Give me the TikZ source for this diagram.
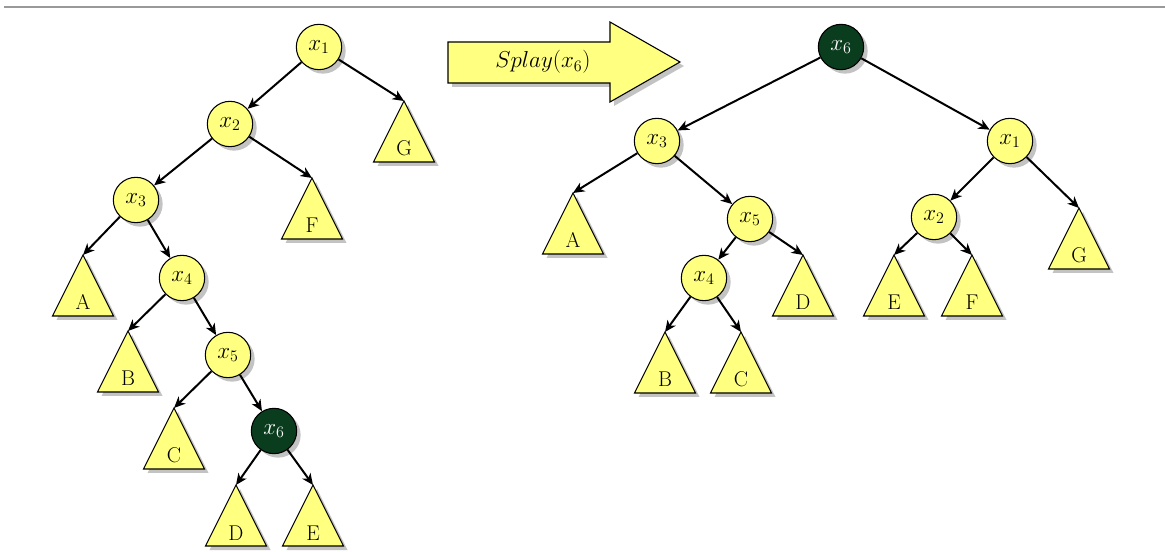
\documentclass[tikz,border=0pt]{standalone}
\usepackage{fontspec}
\usetikzlibrary{arrows.meta,shadows}
\definecolor{yel}{RGB}{255,255,128}
\definecolor{dkg}{RGB}{10,60,30}
\definecolor{shd}{RGB}{195,195,195}
\definecolor{topline}{RGB}{153,153,153}
\tikzset{
  myshadow/.style={drop shadow={shadow xshift=3pt, shadow yshift=-3pt, fill=shd, opacity=1}},
  vtx/.style={circle, draw=black, line width=0.8pt, fill=yel, minimum size=34pt, inner sep=0pt, font=\fontsize{17.28}{20}\selectfont, myshadow},
  dvtx/.style={vtx, fill=dkg, text=white},
  tri/.style={draw=black, line width=0.8pt, fill=yel, line join=miter, myshadow},
  trilabel/.style={anchor=base, inner sep=0pt, font=\fontsize{16}{19}\selectfont},
  edge/.style={line width=1.5pt, -{Stealth[length=8.5pt,width=7.5pt,inset=2.5pt]}},
}
\newcommand\mytri[4]{%
  \coordinate (#1) at (#2,#3);
  \path[tri] (#2,#3) -- ++(30.5,61) -- ++(-61,0) -- cycle;
  \node[trilabel] (#1t) at (#2,#3+55) {#4};
}
\begin{document}
\begin{tikzpicture}[x=0.75pt,y=-0.75pt]
\useasboundingbox (0,0) rectangle (1165,552);
\draw[line width=1.5pt, topline] (4,7) -- (1165,7);

% ---------- left tree ----------
\node[vtx]  (lx1) at (319,47)  {$x_1$};
\node[vtx]  (lx2) at (230,124) {$x_2$};
\node[vtx]  (lx3) at (136,200) {$x_3$};
\node[vtx]  (lx4) at (182,278) {$x_4$};
\node[vtx]  (lx5) at (228,355) {$x_5$};
\node[dvtx] (lx6) at (274,431) {$x_6$};
\mytri{lG}{404}{101}{G}
\mytri{lF}{312}{178}{F}
\mytri{lA}{83}{255}{A}
\mytri{lB}{128}{331}{B}
\mytri{lC}{174}{408}{C}
\mytri{lD}{236}{485}{D}
\mytri{lE}{313}{485}{E}
\draw[edge] (lx1) -- (lx2);
\draw[edge] (lx1) -- (lG);
\draw[edge] (lx2) -- (lx3);
\draw[edge] (lx2) -- (lF);
\draw[edge] (lx3) -- (lA);
\draw[edge] (lx3) -- (lx4);
\draw[edge] (lx4) -- (lB);
\draw[edge] (lx4) -- (lx5);
\draw[edge] (lx5) -- (lC);
\draw[edge] (lx5) -- (lx6);
\draw[edge] (lx6) -- (lD);
\draw[edge] (lx6) -- (lE);

% ---------- splay arrow ----------
\path[fill=yel, draw=black, line width=0.8pt, myshadow]
  (448,42) -- (610,42) -- (610,22) -- (680,62) -- (610,102) -- (610,83) -- (448,83) -- cycle;
\node[font=\fontsize{17.28}{20}\selectfont] (splay) at (543,62) {$Splay(x_6)$};

% ---------- right tree ----------
\node[dvtx] (rx6) at (841,47)  {$x_6$};
\node[vtx]  (rx3) at (657,141) {$x_3$};
\node[vtx]  (rx1) at (1010,141) {$x_1$};
\node[vtx]  (rx5) at (750,219) {$x_5$};
\node[vtx]  (rx2) at (934,217) {$x_2$};
\node[vtx]  (rx4) at (704,278) {$x_4$};
\mytri{rA}{573}{193}{A}
\mytri{rD}{803}{255}{D}
\mytri{rE}{894}{255}{E}
\mytri{rF}{972}{255}{F}
\mytri{rG}{1079}{208}{G}
\mytri{rB}{665}{332}{B}
\mytri{rC}{741}{332}{C}
\draw[edge] (rx6) -- (rx3);
\draw[edge] (rx6) -- (rx1);
\draw[edge] (rx3) -- (rA);
\draw[edge] (rx3) -- (rx5);
\draw[edge] (rx5) -- (rx4);
\draw[edge] (rx5) -- (rD);
\draw[edge] (rx4) -- (rB);
\draw[edge] (rx4) -- (rC);
\draw[edge] (rx1) -- (rx2);
\draw[edge] (rx1) -- (rG);
\draw[edge] (rx2) -- (rE);
\draw[edge] (rx2) -- (rF);
\end{tikzpicture}
\end{document}
